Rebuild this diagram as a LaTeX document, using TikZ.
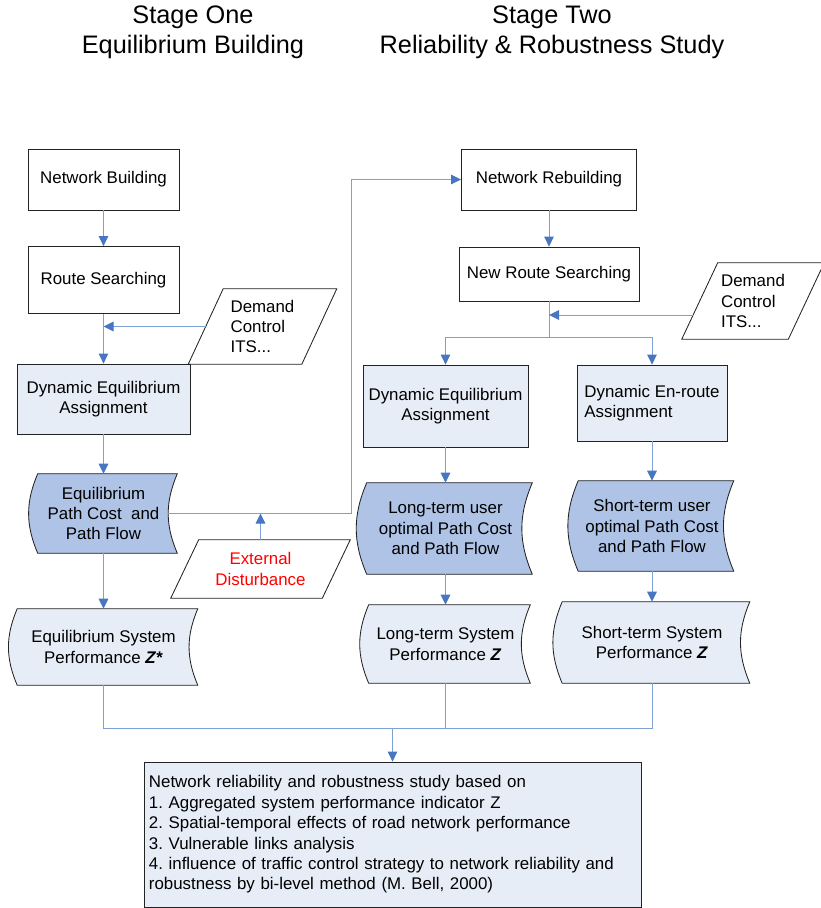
\documentclass[tikz,border=0pt]{standalone}
\usepackage{fontspec}
\setmainfont{Liberation Sans}
\usepackage{tikz}
\usetikzlibrary{arrows.meta,calc,backgrounds}
\usepackage{xcolor}
\definecolor{flowblue}{RGB}{125,160,215}
\definecolor{tipblue}{RGB}{72,118,192}
\definecolor{lightfill}{RGB}{230,237,247}
\definecolor{darkfill}{RGB}{174,195,229}
\definecolor{edgegray}{RGB}{35,35,35}
\frenchspacing

\begin{document}
\begin{tikzpicture}[
    x=0.025cm, y=-0.025cm,
    every node/.style={font=\fontsize{12}{14.5}\selectfont},
    box/.style={rectangle, draw=edgegray, line width=0.6pt, fill=white, align=center, inner sep=0pt},
    lightbox/.style={box, fill=lightfill},
    stored/.style={rectangle, inner sep=0pt, align=center},
    inbox/.style={rectangle, inner sep=0pt, align=left},
    title/.style={font=\fontsize{18}{21.5}\selectfont, align=center},
    link/.style={draw=flowblue, line width=0.7pt},
    arrow/.style={link, -{Triangle[length=0.25cm, width=0.24cm, color=tipblue]}}
]
\useasboundingbox (0,0) rectangle (821,908);

% Stage headings
\node[title] (stage1) at (193,32) {Stage One\\Equilibrium Building};
\node[title] (stage2) at (552,32) {Stage Two\\Reliability \& Robustness Study};

% Stage one
\node[box, minimum width=3.775cm, minimum height=1.525cm] (netb) at (103.5,179.5) {Network Building};
\node[box, minimum width=3.775cm, minimum height=1.675cm] (route) at (103.5,280) {Route Searching};
\node[inbox, minimum width=2.825cm, minimum height=1.875cm] (dem1) at (262.5,326.5) {Demand\\Control\\ITS...};
\node[lightbox, minimum width=4.325cm, minimum height=1.75cm] (dea1) at (103.5,399) {Dynamic Equilibrium\\Assignment};
\node[stored, minimum width=3.475cm, minimum height=1.975cm] (eqflow) at (103.5,513.5) {Equilibrium\\Path Cost\ \ and\\Path Flow};
\node[inbox, align=center, text=red, minimum width=3.775cm, minimum height=1.45cm] (ext) at (260.5,569) {External\\Disturbance};
\node[stored, minimum width=4.5cm, minimum height=1.9cm] (eqperf) at (103.5,647) {Equilibrium System\\Performance \textbf{\textit{Z}*}};

% Stage two
\node[box, minimum width=4.375cm, minimum height=1.525cm] (netrb) at (549,179.5) {Network Rebuilding};
\node[box, minimum width=4.5cm, minimum height=1.35cm] (nroute) at (549,274) {New Route Searching};
\node[inbox, minimum width=2.65cm, minimum height=1.9cm] (dem2) at (753,301) {Demand\\Control\\ITS...};
\node[lightbox, minimum width=4.125cm, minimum height=2.05cm] (dea2) at (445.5,406) {Dynamic Equilibrium\\Assignment};
\node[lightbox, align=left, minimum width=3.75cm, minimum height=1.9cm] (dera) at (652,403) {Dynamic En-route\\Assignment};
\node[stored, minimum width=4.125cm, minimum height=2.275cm] (ltflow) at (445.5,528.5) {Long-term user\\optimal Path Cost\\and Path Flow};
\node[stored, minimum width=3.875cm, minimum height=2.25cm] (stflow) at (652,526) {Short-term user\\optimal Path Cost\\and Path Flow};
\node[stored, minimum width=4.025cm, minimum height=1.95cm] (ltperf) at (445.5,644) {Long-term System\\Performance \textbf{\textit{Z}}};
\node[stored, minimum width=4.675cm, minimum height=2.025cm] (stperf) at (652,642.5) {Short-term System\\Performance \textbf{\textit{Z}}};

% Summary box
\node[lightbox, align=left, text width=12.175cm, inner xsep=0.125cm, minimum height=3.625cm] (study) at (392.5,834.5)
  {Network reliability and robustness study based on\\
   1. Aggregated system performance indicator Z\\
   2. Spatial-temporal effects of road network performance\\
   3. Vulnerable links analysis\\
   4. influence of traffic control strategy to network reliability and\\
   robustness by bi-level method (M. Bell, 2000)};

% Outlines behind the text nodes
\begin{scope}[on background layer]
  \foreach \n/\s in {dem1/17.5, dem2/18, ext/14}
    \draw[draw=edgegray, line width=0.6pt, fill=white]
      ($(\n.south west)+(-\s,0)$) -- ($(\n.south east)+(-\s,0)$) --
      ($(\n.north east)+(\s,0)$) -- ($(\n.north west)+(\s,0)$) -- cycle;
  \foreach \n/\fc in {eqflow/darkfill, eqperf/lightfill, ltflow/darkfill, stflow/darkfill, ltperf/lightfill, stperf/lightfill}
    \draw[draw=edgegray, line width=0.6pt, fill=\fc]
      ($(\n.north west)+(4,0)$) -- ($(\n.north east)+(4,0)$)
      to[bend right=23] ($(\n.south east)+(4,0)$) -- ($(\n.south west)+(4,0)$)
      to[bend left=23] ($(\n.north west)+(4,0)$) -- cycle;
\end{scope}

% Stage one flow
\draw[arrow] (netb) -- (route);
\draw[arrow] (route) -- (dea1);
\draw[arrow] (dem1.west) -- (dem1.west -| route.south);
\draw[arrow] (dea1) -- (eqflow);
\draw[arrow] (eqflow) -- (eqperf);
\coordinate (bypass) at (351,0);
\draw[arrow] ($(eqflow.east)+(-5,0)$) -| (bypass |- netrb.west) -- (netrb.west);
\draw[arrow] (ext.north) -- (ext.north |- eqflow.east);

% Stage two flow
\draw[arrow] (netrb) -- (nroute);
\coordinate (split) at ($(nroute.south)+(0,36)$);
\draw[link] (nroute.south) -- (split);
\draw[arrow] (split) -| (dea2.north);
\draw[arrow] (split) -| (dera.north);
\coordinate (dem2in) at ($(dem2.west)+(-6.6,14)$);
\draw[arrow] (dem2in) -- (dem2in -| nroute.south);
\draw[arrow] (dea2) -- (ltflow);
\draw[arrow] (dera) -- (stflow);
\draw[arrow] (ltflow) -- (ltperf);
\draw[arrow] (stflow) -- (stperf);

% Results merge into the study
\coordinate (merge) at ($(eqperf.south)+(0,43)$);
\draw[link] (eqperf.south) |- (stperf.south |- merge) -- (stperf.south);
\draw[link] (ltperf.south) -- (ltperf.south |- merge);
\draw[arrow] (merge -| study.north) -- (study.north);

\end{tikzpicture}
\end{document}
